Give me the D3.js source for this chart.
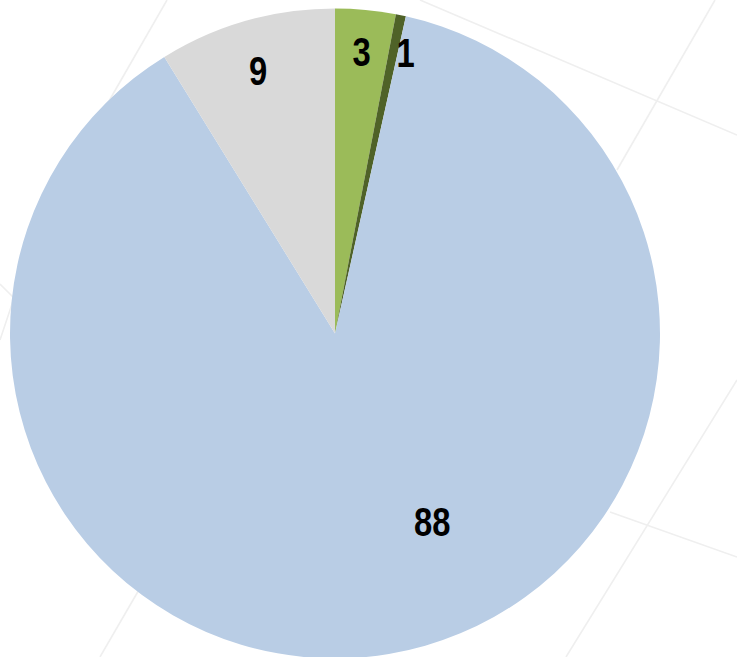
<!DOCTYPE html>
<html>
<head>
<meta charset="utf-8">
<script src="https://cdn.jsdelivr.net/npm/d3@7"></script>
<style>
  html, body { margin: 0; padding: 0; background: #fff; }
  svg { display: block; }
  .lbl { font-family: "Liberation Sans", Arial, sans-serif; font-weight: bold; font-size: 40px; fill: #000; }
</style>
</head>
<body>
<div id="chart"></div>
<script>
// data
var categories = ["A", "B", "C", "D"];
var values = [3.0, 0.5, 87.7, 8.8];
var labels = ["3", "1", "88", "9"];
var colors = ["#9BBB59", "#4F6228", "#B9CDE5", "#D9D9D9"];

// svg container
var svgWidth = 737;
var svgHeight = 657;
var cx = 335, cy = 333.5, radius = 325;

var svg = d3.select("#chart")
  .append("svg")
  .attr("width", svgWidth)
  .attr("height", svgHeight);

// faint background grid lines (behind the pie)
var bgLines = [
  [167, 0, 105, 108],
  [715, 0, 617, 170],
  [420, 0, 737, 135],
  [737, 380, 566, 657],
  [610, 512, 737, 557],
  [100, 657, 140, 588],
  [0, 284, 14, 298],
  [0, 340, 14, 298]
];
svg.append("g")
  .selectAll("line")
  .data(bgLines)
  .enter()
  .append("line")
  .attr("x1", d => d[0]).attr("y1", d => d[1])
  .attr("x2", d => d[2]).attr("y2", d => d[3])
  .attr("stroke", "#efefef")
  .attr("stroke-width", 1.6);

var chartGroup = svg.append("g")
  .attr("transform", `translate(${cx}, ${cy})`);

var pie = d3.pie().sort(null).value(d => d);
var arcs = pie(values);

var arc = d3.arc().innerRadius(0).outerRadius(radius);

chartGroup.selectAll("path")
  .data(arcs)
  .enter()
  .append("path")
  .attr("d", arc)
  .attr("fill", (d, i) => colors[i]);

// label placement (Excel-style, a bit nudged)
var labelRadius = [283, 290, 212, 274];
var labelShift = [0, 0.042, -0.31, -0.008];

chartGroup.selectAll("text")
  .data(arcs)
  .enter()
  .append("text")
  .attr("class", "lbl")
  .attr("text-anchor", "middle")
  .attr("dy", "0.36em")
  .attr("transform", function(d, i) {
    var a = (d.startAngle + d.endAngle) / 2 + labelShift[i];
    var r = labelRadius[i];
    // narrow bold look
    return `translate(${Math.sin(a) * r}, ${-Math.cos(a) * r}) scale(0.82, 1)`;
  })
  .text((d, i) => labels[i]);
</script>
</body>
</html>
